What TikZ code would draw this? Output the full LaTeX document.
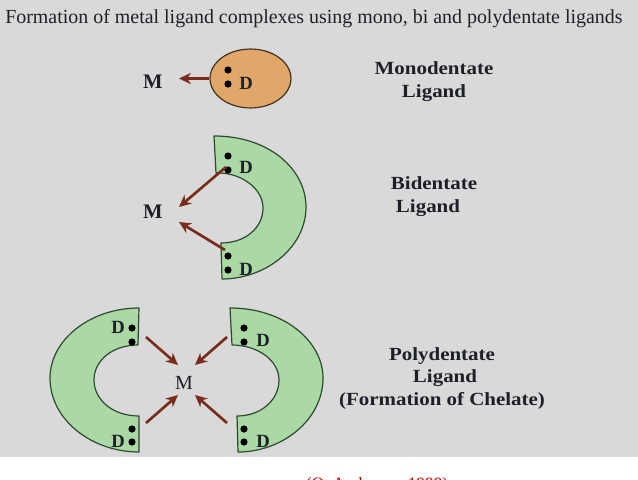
\documentclass[tikz,border=0pt]{standalone}
\usepackage{fontspec}
\setmainfont{Liberation Serif}
\usetikzlibrary{arrows.meta,shapes.geometric}
\definecolor{bgray}{HTML}{D9D9D9}
\definecolor{lgreen}{HTML}{AAD9A5}
\definecolor{lorange}{HTML}{E0A768}
\definecolor{bondred}{HTML}{7A2C1C}
\definecolor{edgegreen}{HTML}{2C4A30}
\definecolor{inkdark}{HTML}{1E2028}
\tikzset{
  ring/.style={draw=edgegreen,fill=lgreen,line width=0.9pt,line join=round},
  bond/.style={draw=bondred,line width=2pt,-{Stealth[length=9pt,width=8.5pt]}},
  dotmark/.style={circle,fill=black,inner sep=0pt,minimum size=5.4pt},
  donor/.style={font=\fontsize{14}{14}\selectfont\bfseries,text=inkdark,inner sep=0pt},
  metal/.style={font=\fontsize{15.5}{15.5}\selectfont\bfseries,text=inkdark,inner sep=0pt},
  lab/.style={anchor=base,font=\fontsize{13.9}{13.9}\selectfont\bfseries,text=inkdark,inner sep=0pt,xscale=1.13,transform shape},
}
\begin{document}
\begin{tikzpicture}[x=0.75pt,y=-0.75pt]
\useasboundingbox (0,0) rectangle (638,479);
\clip (0,0) rectangle (638,479);
\fill[bgray] (0,0) rectangle (638,457);
\node[anchor=base west,inner sep=0pt,text=inkdark,font=\fontsize{14.95}{14.95}\selectfont] (title) at (5,23) {Formation of metal ligand complexes using mono, bi and polydentate ligands};
% monodentate
\node[ellipse,draw=black!70!lorange,fill=lorange,line width=0.9pt,minimum width=60.7pt,minimum height=44.2pt,inner sep=0pt] (mono) at (250.5,78.5) {};
\node[dotmark] (m1) at (228,70) {};
\node[dotmark] (m2) at (228,84) {};
\node[donor] (mD) at (246,83) {D};
\node[metal] (mM) at (153,82) {M};
\coordinate (mTip) at (179,78.5);
\draw[bond] (mono.west) -- (mTip);
\node[lab] at (434,74) {Monodentate};
\node[lab] at (434,97) {Ligand};
% bidentate
\path[ring] (214,136) .. controls (270,136) and (306,170) .. (306,207)
  .. controls (306,248) and (265,279) .. (222,279) -- (221,243)
  .. controls (245,243) and (263,228) .. (263,208)
  .. controls (263,188) and (240,172) .. (216,173) -- cycle;
\node[dotmark] (b1) at (228,156) {};
\node[dotmark] (b2) at (228,170) {};
\node[dotmark] (b3) at (228,256) {};
\node[dotmark] (b4) at (228,270) {};
\node[donor] (bD1) at (246,167) {D};
\node[donor] (bD2) at (246,269) {D};
\node[metal] (bM) at (153,212) {M};
\coordinate (bS1) at (226,167);
\coordinate (bT1) at (179,207);
\coordinate (bS2) at (225,250);
\coordinate (bT2) at (179,222);
\draw[bond] (bS1) -- (bT1);
\draw[bond] (bS2) -- (bT2);
\node[lab] at (434,189) {Bidentate};
\node[lab] at (428,212) {Ligand};
% polydentate
\path[ring] (230,308) .. controls (285,308) and (323,342) .. (323,378)
  .. controls (323,420) and (282,452) .. (238,452) -- (237,416)
  .. controls (261,416) and (279,400) .. (279,380)
  .. controls (279,360) and (257,345) .. (232,345) -- cycle;
\path[ring] (139,308) .. controls (90,308) and (50,340) .. (50,378)
  .. controls (50,420) and (92,452) .. (139,452) -- (139,416)
  .. controls (113,416) and (94,400) .. (94,380)
  .. controls (94,360) and (113,345) .. (138,345) -- cycle;
\node[dotmark] (p1) at (132,328) {};
\node[dotmark] (p2) at (132,342) {};
\node[dotmark] (p3) at (132,429) {};
\node[dotmark] (p4) at (132,442) {};
\node[dotmark] (p5) at (244,328) {};
\node[dotmark] (p6) at (244,342) {};
\node[dotmark] (p7) at (244,429) {};
\node[dotmark] (p8) at (244,442) {};
\node[donor] (pD1) at (118,327) {D};
\node[donor] (pD2) at (118,441) {D};
\node[donor] (pD3) at (263,340) {D};
\node[donor] (pD4) at (263,441) {D};
\node[inner sep=0pt,text=inkdark,font=\fontsize{15}{15}\selectfont] (pM) at (184,383) {M};
\coordinate (a1) at (146,337); \coordinate (t1) at (178,365);
\coordinate (a2) at (227,337); \coordinate (t2) at (195,365);
\coordinate (a3) at (146,423); \coordinate (t3) at (178,395);
\coordinate (a4) at (227,423); \coordinate (t4) at (195,395);
\draw[bond] (a1) -- (t1);
\draw[bond] (a2) -- (t2);
\draw[bond] (a3) -- (t3);
\draw[bond] (a4) -- (t4);
\node[lab] at (442,360) {Polydentate};
\node[lab] at (445,382) {Ligand};
\node[lab] at (442,405) {(Formation of Chelate)};
% red citation, cut off by the lower edge
\node[anchor=base,inner sep=0pt,text=red!75!black,font=\fontsize{13}{13}\selectfont] (cite) at (377,489) {(O. Andersen, 1999)};
\end{tikzpicture}
\end{document}
